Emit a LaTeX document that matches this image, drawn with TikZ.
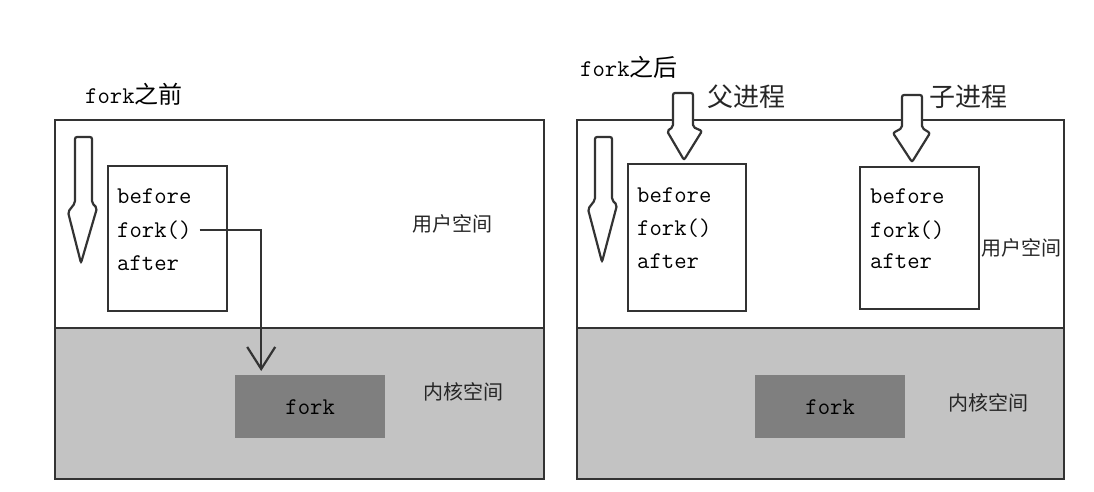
\documentclass[tikz,border=0pt]{standalone}
\usepackage{fontspec}
\usepackage{tikz}
\usetikzlibrary{arrows.meta,positioning}
\newfontfamily\cjk{Noto Sans CJK SC}
\definecolor{forkline}{HTML}{333333}
\definecolor{forkuser}{HTML}{FFFFFF}
\definecolor{forkkernel}{HTML}{C3C3C3}
\definecolor{forkcall}{HTML}{7F7F7F}

\begin{document}
\begin{tikzpicture}[
  x=1pt, y=-1pt,
  panel/.style={draw=forkline, line width=2.4pt},
  codebox/.style={draw=forkline, line width=2.4pt, fill=white, anchor=north west, inner sep=0pt},
  code/.style={anchor=base west, inner sep=0pt, font=\fontsize{24}{28}\selectfont\ttfamily},
  kbox/.style={fill=forkcall, anchor=north west, inner sep=0pt, font=\fontsize{24}{28}\selectfont\ttfamily},
  title/.style={anchor=base west, inner sep=0pt, font=\fontsize{24}{28}\selectfont},
  space/.style={inner sep=0pt, font=\fontsize{20}{24}\selectfont\cjk, text=black!85},
  proc/.style={anchor=west, inner sep=0pt, font=\fontsize{26}{30}\selectfont\cjk, text=black!85},
  flow/.style={draw=forkline, fill=white, line width=2.2pt, rounded corners=2pt},
  callarrow/.style={draw=forkline, line width=2.2pt, -{Straight Barb[length=22pt,width=28pt]}}
]
\useasboundingbox (0,0) rectangle (1094,491);

% before fork
\fill[forkkernel] (55,328) rectangle (544,479);
\draw[panel] (55,120) rectangle (544,479);
\draw[panel] (55,328) -- (544,328);
\node[title] (tbefore) at (85,103) {\ttfamily fork\cjk 之前};
\node[codebox, minimum width=119, minimum height=145] (lbox) at (107,165) {};
\node[code] (lbefore) at (117,203) {before};
\node[code] (lcall) at (117,237) {fork()};
\node[code] (lafter) at (117,270) {after};
\node[kbox, minimum width=150, minimum height=63] (lkfork) at (235,375) {fork};
\node[space] (luser) at (452,224) {用户空间};
\node[space] (lkernel) at (463,392) {内核空间};
\draw[flow] (75,203) -- (75,137) -- (92,137) -- (92,203) -- (97,208) -- (81,263) -- (68,212) -- cycle;
\draw[callarrow, shorten <=8pt, shorten >=4pt] (lcall.east) -| ([xshift=-49pt]lkfork.north);

% after fork
\fill[forkkernel] (577,328) rectangle (1064,479);
\draw[panel] (577,120) rectangle (1064,479);
\draw[panel] (577,328) -- (1064,328);
\node[title] (tafter) at (580,76) {\ttfamily fork\cjk 之后};
\node[codebox, minimum width=118, minimum height=147] (pbox) at (627,163) {};
\node[code] (pbefore) at (637,202) {before};
\node[code] (pcall) at (637,235) {fork()};
\node[code] (pafter) at (637,268) {after};
\node[codebox, minimum width=119, minimum height=142] (cbox) at (859,166) {};
\node[code] (cbefore) at (870,203) {before};
\node[code] (ccall) at (870,237) {fork()};
\node[code] (cafter) at (870,268) {after};
\node[kbox, minimum width=150, minimum height=63] (rkfork) at (755,375) {fork};
\node[space] (ruser) at (1021,248) {用户空间};
\node[space] (rkernel) at (988,403) {内核空间};
\draw[flow] (595,200) -- (595,137) -- (612,137) -- (612,200) -- (617,205) -- (602,262) -- (588,209) -- cycle;
\draw[flow] (673,127) -- (673,93) -- (693,93) -- (693,127) -- (702,131) -- (684,160) -- (667,131) -- cycle;
\draw[flow] (902,128) -- (902,95) -- (922,95) -- (922,128) -- (930,133) -- (912,162) -- (893,133) -- cycle;
\node[proc] (parent) at (707,97) {父进程};
\node[proc] (child) at (929,97) {子进程};
\end{tikzpicture}
\end{document}
